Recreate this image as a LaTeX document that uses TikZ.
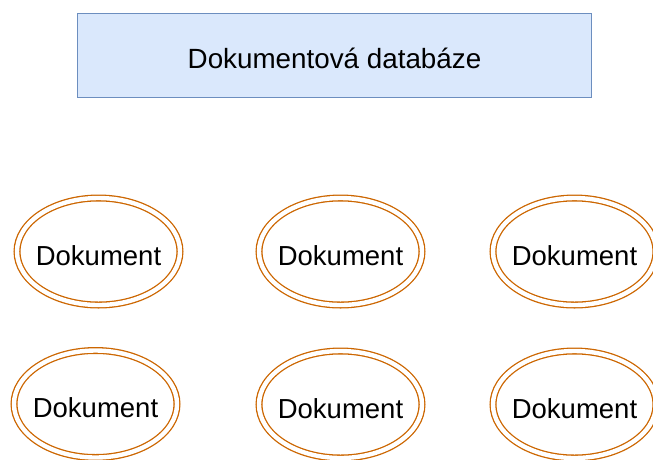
\documentclass[tikz,border=0pt]{standalone}
\usepackage{fontspec}
\setmainfont{Liberation Sans}
\usetikzlibrary{shapes.geometric}
\definecolor{docline}{RGB}{204,102,0}
\definecolor{dbfill}{HTML}{DAE8FC}
\definecolor{dbline}{HTML}{6C8EBF}
\begin{document}
\begin{tikzpicture}[x=1pt,y=-1pt,
  doc/.style={ellipse, draw=docline, line width=1.3pt, double=white,
    double distance=4.4pt, minimum width=163pt, minimum height=107pt,
    inner sep=0pt},
  doctext/.style={inner sep=0pt, font=\fontsize{27.5}{33}\selectfont,
    text height=27pt, text depth=0pt},
  db/.style={rectangle, draw=dbline, fill=dbfill, line width=1pt,
    minimum width=514pt, minimum height=84pt, inner sep=0pt,
    font=\fontsize{27.8}{33}\selectfont, text height=25.5pt, text depth=0pt}]
\useasboundingbox (0,0) rectangle (653,459);
\node[db] (db) at (334.5,55.3) {Dokumentová databáze};
\node[doc] (d1) at (98.5,251.5) {};
\node[doc] (d2) at (340.5,251.5) {};
\node[doc] (d3) at (574.5,251.5) {};
\node[doc] (d4) at (95.5,404) {};
\node[doc] (d5) at (340.5,404.5) {};
\node[doc] (d6) at (574.5,404.5) {};
\node[doctext] (t1) at (d1.center) {Dokument};
\node[doctext] (t2) at (d2.center) {Dokument};
\node[doctext] (t3) at (d3.center) {Dokument};
\node[doctext] (t4) at (d4.center) {Dokument};
\node[doctext] (t5) at (d5.center) {Dokument};
\node[doctext] (t6) at (d6.center) {Dokument};
\end{tikzpicture}
\end{document}
